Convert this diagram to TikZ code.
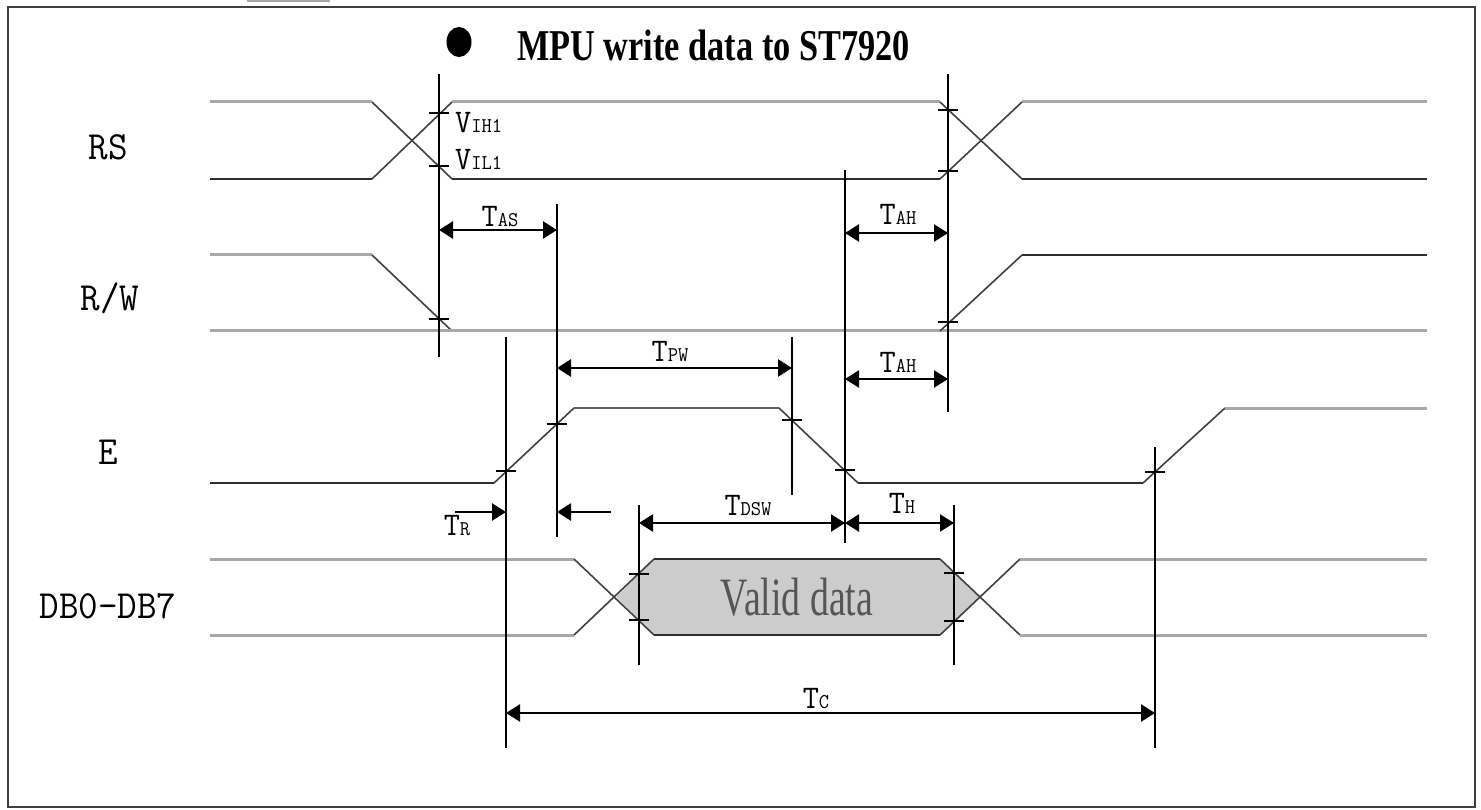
\documentclass[tikz,border=0pt]{standalone}
\usepackage{fontspec}
\usepackage{graphicx}
\setmainfont{Liberation Serif}
\usetikzlibrary{arrows.meta}
\definecolor{sigdark}{HTML}{2E2E2E}
\definecolor{siggray}{HTML}{A8A8A8}
\definecolor{sigmid}{HTML}{606060}
\definecolor{diagc}{HTML}{404040}
\definecolor{vdfill}{HTML}{CCCCCC}
\definecolor{vdtext}{HTML}{555555}
\newcommand{\tlab}[2]{\scalebox{0.95}[1]{\ttfamily\fontsize{33}{33}\selectfont #1\fontsize{21}{21}\selectfont #2}}
\newcommand{\slab}[1]{\scalebox{0.95}[1]{\ttfamily\fontsize{40}{40}\selectfont #1}}
\tikzset{
  hi/.style={siggray, line width=3pt},
  lo/.style={sigdark, line width=2.5pt},
  md/.style={sigmid, line width=2.5pt},
  trn/.style={diagc, line width=1.6pt},
  refl/.style={black, line width=1.8pt},
  tk/.style={black, line width=1.6pt},
  dimr/.style={black, line width=2.4pt, -{Triangle[length=14pt,width=17pt]}},
  dimb/.style={black, line width=2.4pt, {Triangle[length=14pt,width=17pt]}-{Triangle[length=14pt,width=17pt]}},
  lab/.style={inner sep=0pt, anchor=base},
}
\begin{document}
\begin{tikzpicture}[x=1pt,y=-1pt]
\useasboundingbox (0,0) rectangle (1481,810);
% frame
\draw[black!75, line width=2pt] (8,7) rectangle (1475,807);
\draw[siggray, line width=3pt] (247,1) -- (330,1);
% title
\fill[black] (459,42) ellipse [x radius=12.5, y radius=15];
\node[inner sep=0pt, anchor=base west] (title) at (517,61)
  {\scalebox{0.78}[1]{\bfseries\fontsize{44}{44}\selectfont MPU write data to ST7920}};
% signal names
\node[lab] (nRS) at (108,160) {\slab{RS}};
\node[lab] (nRW) at (110,311) {\slab{R/W}};
\node[lab] (nE) at (108,464) {\slab{E}};
\node[lab] (nDB) at (108,618) {\slab{DB0-DB7}};
% RS
\draw[hi] (210,102) -- (372,102);
\draw[hi] (452,102) -- (940,102);
\draw[hi] (1022,102) -- (1427,102);
\draw[lo] (210,179) -- (372,179);
\draw[lo] (452,179) -- (940,179);
\draw[lo] (1022,179) -- (1427,179);
\draw[trn] (372,102) -- (452,179);
\draw[trn] (372,179) -- (452,102);
\draw[trn] (940,102) -- (1022,179);
\draw[trn] (940,179) -- (1022,102);
% R/W
\draw[hi] (210,255) -- (372,255);
\draw[trn] (372,255) -- (452,331);
\draw[hi] (210,331) -- (1427,331);
\draw[trn] (940,331) -- (1022,255);
\draw[lo] (1022,255) -- (1427,255);
% E
\draw[lo] (210,483) -- (494,483);
\draw[trn] (494,483) -- (574,408);
\draw[md] (574,408) -- (779,408);
\draw[trn] (779,408) -- (858,483);
\draw[lo] (858,483) -- (1143,483);
\draw[trn] (1143,483) -- (1225,408);
\draw[hi] (1225,408) -- (1427,408);
% DB
\fill[vdfill] (654,559) -- (940,559) -- (980,597) -- (940,635) -- (654,635) -- (616,597) -- cycle;
\draw[lo] (654,559) -- (940,559);
\draw[lo] (654,635) -- (940,635);
\draw[hi] (210,559) -- (574,559);
\draw[hi] (210,635) -- (574,635);
\draw[trn] (574,559) -- (654,635);
\draw[trn] (574,635) -- (654,559);
\draw[trn] (940,559) -- (1020,635);
\draw[trn] (940,635) -- (1020,559);
\draw[hi] (1020,559) -- (1427,559);
\draw[hi] (1020,635) -- (1427,635);
\node[lab] (vd) at (797,615) {\scalebox{0.7}[1]{\color{vdtext}\fontsize{54}{54}\selectfont Valid data}};
% reference lines
\coordinate (a1) at (439,74);   \coordinate (b1) at (439,357);
\coordinate (a2) at (557,204);  \coordinate (b2) at (557,537);
\coordinate (a3) at (506,337);  \coordinate (b3) at (506,748);
\coordinate (a4) at (792,337);  \coordinate (b4) at (792,495);
\coordinate (a5) at (845,170);  \coordinate (b5) at (845,543);
\coordinate (a6) at (948,74);   \coordinate (b6) at (948,412);
\coordinate (a7) at (639,505);  \coordinate (b7) at (639,665);
\coordinate (a8) at (954,505);  \coordinate (b8) at (954,665);
\coordinate (a9) at (1155,447); \coordinate (b9) at (1155,748);
\foreach \i in {1,...,9} {\draw[refl] (a\i) -- (b\i);}
% ticks
\foreach \x/\y in {439/113, 439/166, 439/319, 948/110, 948/171, 948/322,
  506/471, 557/424, 792/420, 845/470, 1155/472,
  639/574, 639/620, 954/573, 954/621}
  {\draw[tk] (\x-10,\y) -- (\x+10,\y);}
% VIH1 / VIL1
\node[inner sep=0pt, anchor=base west] (vih) at (455,133) {\tlab{V}{IH1}};
\node[inner sep=0pt, anchor=base west] (vil) at (455,170) {\tlab{V}{IL1}};
% dimension arrows
\coordinate (tasL) at (439,230); \coordinate (tasR) at (557,230);
\draw[dimb] (tasL) -- (tasR);
\node[lab] (lTAS) at (500,227) {\tlab{T}{AS}};
\coordinate (tah1L) at (845,233); \coordinate (tah1R) at (948,233);
\draw[dimb] (tah1L) -- (tah1R);
\node[lab] (lTAH1) at (898,225) {\tlab{T}{AH}};
\coordinate (tpwL) at (557,368); \coordinate (tpwR) at (792,368);
\draw[dimb] (tpwL) -- (tpwR);
\node[lab] (lTPW) at (670,362) {\tlab{T}{PW}};
\coordinate (tah2L) at (845,379); \coordinate (tah2R) at (948,379);
\draw[dimb] (tah2L) -- (tah2R);
\node[lab] (lTAH2) at (898,373) {\tlab{T}{AH}};
\coordinate (trS) at (455,512); \coordinate (trE) at (506,512);
\draw[dimr] (trS) -- (trE);
\node[lab] (lTR) at (457,535) {\tlab{T}{R}};
\coordinate (tfS) at (611,512); \coordinate (tfE) at (557,512);
\draw[dimr] (tfS) -- (tfE);
\coordinate (tdL) at (639,523); \coordinate (tdR) at (845,523);
\draw[dimb] (tdL) -- (tdR);
\node[lab] (lTDSW) at (748,515) {\tlab{T}{DSW}};
\coordinate (thL) at (845,523); \coordinate (thR) at (954,523);
\draw[dimb] (thL) -- (thR);
\node[lab] (lTH) at (902,513) {\tlab{T}{H}};
\coordinate (tcL) at (506,713); \coordinate (tcR) at (1155,713);
\draw[dimb] (tcL) -- (tcR);
\node[lab] (lTC) at (816,708) {\tlab{T}{C}};
\end{tikzpicture}
\end{document}
